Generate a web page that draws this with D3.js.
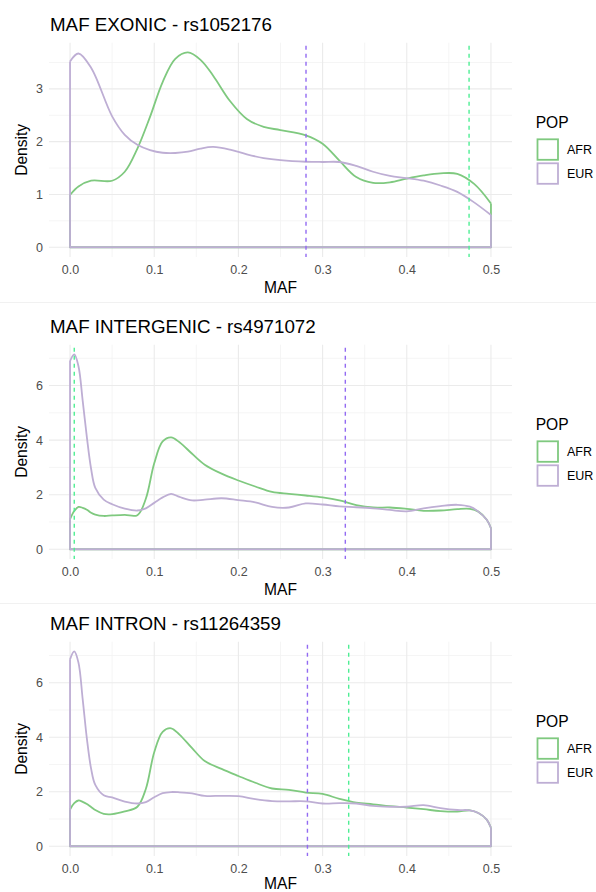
<!DOCTYPE html>
<html>
<head>
<meta charset="utf-8">
<script src="https://cdn.jsdelivr.net/npm/d3@7"></script>
<style>
  html, body { margin: 0; padding: 0; background: #ffffff; }
  svg { display: block; font-family: "Liberation Sans", Arial, Helvetica, sans-serif; }
</style>
</head>
<body>
<svg id="chart" width="596" height="892"></svg>
<script>
// ---- Data -------------------------------------------------------------
const populations = ["AFR", "EUR"];
const popColors = ["#7FC97F", "#BEAED4"];
const markerColors = ["#4EEE94", "#936BF2"];
const mafTicks = [0, 0.1, 0.2, 0.3, 0.4, 0.5];

const panelTitles = [
  "MAF EXONIC - rs1052176",
  "MAF INTERGENIC - rs4971072",
  "MAF INTRON - rs11264359"
];

// Exonic
const exonicMaf = [0, 0.01, 0.025, 0.05, 0.065, 0.08, 0.095, 0.11, 0.125, 0.14, 0.155, 0.17, 0.19, 0.21, 0.23, 0.25, 0.28, 0.30, 0.32, 0.34, 0.36, 0.38, 0.40, 0.42, 0.44, 0.46, 0.48, 0.5];
const exonicAfr = [0.99, 1.15, 1.26, 1.26, 1.43, 1.87, 2.47, 3.13, 3.57, 3.69, 3.55, 3.25, 2.77, 2.43, 2.28, 2.22, 2.12, 1.96, 1.64, 1.33, 1.22, 1.23, 1.30, 1.36, 1.40, 1.39, 1.20, 0.83];
const exonicEur = [3.52, 3.67, 3.40, 2.48, 2.13, 1.94, 1.84, 1.79, 1.785, 1.81, 1.87, 1.90, 1.85, 1.76, 1.69, 1.65, 1.62, 1.615, 1.615, 1.54, 1.43, 1.35, 1.31, 1.26, 1.17, 1.05, 0.85, 0.61];
const exonicYTicks = [0, 1, 2, 3];

// Intergenic
const intergenicMaf = [0, 0.005, 0.01, 0.015, 0.02, 0.025, 0.03, 0.04, 0.05, 0.065, 0.08, 0.09, 0.1, 0.11, 0.12, 0.13, 0.145, 0.16, 0.18, 0.2, 0.22, 0.24, 0.26, 0.28, 0.3, 0.32, 0.34, 0.36, 0.38, 0.40, 0.42, 0.44, 0.46, 0.475, 0.485, 0.495, 0.5];
const intergenicAfr = [1.1, 1.4, 1.55, 1.52, 1.45, 1.34, 1.27, 1.22, 1.24, 1.26, 1.25, 1.85, 3.15, 3.95, 4.10, 3.92, 3.50, 3.10, 2.77, 2.52, 2.30, 2.10, 2.03, 1.97, 1.90, 1.79, 1.62, 1.53, 1.53, 1.48, 1.41, 1.42, 1.47, 1.48, 1.38, 1.08, 0.77];
const intergenicEur = [6.9, 7.14, 6.71, 5.45, 4.1, 2.95, 2.25, 1.82, 1.65, 1.49, 1.42, 1.5, 1.70, 1.90, 2.03, 1.92, 1.79, 1.82, 1.87, 1.80, 1.72, 1.55, 1.53, 1.68, 1.64, 1.57, 1.54, 1.50, 1.44, 1.39, 1.50, 1.58, 1.63, 1.56, 1.38, 1.08, 0.77];
const intergenicYTicks = [0, 2, 4, 6];

// Intron
const intronMaf = [0, 0.005, 0.01, 0.015, 0.02, 0.025, 0.03, 0.04, 0.05, 0.065, 0.08, 0.09, 0.1, 0.11, 0.12, 0.13, 0.145, 0.16, 0.18, 0.2, 0.22, 0.24, 0.26, 0.28, 0.3, 0.32, 0.34, 0.36, 0.38, 0.40, 0.42, 0.44, 0.46, 0.475, 0.485, 0.495, 0.5];
const intronAfr = [1.35, 1.58, 1.68, 1.63, 1.55, 1.44, 1.33, 1.19, 1.18, 1.28, 1.45, 2.1, 3.45, 4.2, 4.33, 4.1, 3.6, 3.13, 2.84, 2.58, 2.33, 2.12, 2.07, 1.97, 1.92, 1.74, 1.60, 1.54, 1.47, 1.42, 1.36, 1.29, 1.27, 1.32, 1.22, 0.98, 0.68];
const intronEur = [6.86, 7.15, 6.74, 5.4, 3.95, 2.85, 2.25, 1.87, 1.79, 1.64, 1.57, 1.62, 1.80, 1.95, 1.99, 1.98, 1.94, 1.85, 1.85, 1.84, 1.73, 1.66, 1.65, 1.65, 1.57, 1.58, 1.57, 1.48, 1.45, 1.45, 1.51, 1.40, 1.33, 1.32, 1.22, 0.98, 0.68];
const intronYTicks = [0, 2, 4, 6];

// Per-SNP marker positions (AFR, EUR)
const snpMafAfr = [0.474, 0.005, 0.331];
const snpMafEur = [0.2803, 0.327, 0.282];

const panels = [
  { title: panelTitles[0], maf: exonicMaf, series: [exonicAfr, exonicEur], yTicks: exonicYTicks, markers: [snpMafAfr[0], snpMafEur[0]] },
  { title: panelTitles[1], maf: intergenicMaf, series: [intergenicAfr, intergenicEur], yTicks: intergenicYTicks, markers: [snpMafAfr[1], snpMafEur[1]] },
  { title: panelTitles[2], maf: intronMaf, series: [intronAfr, intronEur], yTicks: intronYTicks, markers: [snpMafAfr[2], snpMafEur[2]] }
];

// ---- Layout -----------------------------------------------------------
const width = 596, height = 892;
const panelOffsets = [0, 302, 599];
const plotLeft = 49, plotRight = 512;
const plotTop = 42.7, plotBottom = 257;

const svg = d3.select("#chart");

// faint separators between stacked plots
[302.5, 603.5].forEach(y => {
  svg.append("line").attr("x1", 0).attr("x2", width).attr("y1", y).attr("y2", y)
    .attr("stroke", "#f1f1f1").attr("stroke-width", 1);
});

const x = d3.scaleLinear().domain([-0.025, 0.525]).range([plotLeft, plotRight]);

panels.forEach((p, i) => {
  const off = panelOffsets[i];
  const g = svg.append("g").attr("transform", `translate(0,${off})`);
  const yMax = d3.max(p.series.flat());
  const y = d3.scaleLinear().domain([-0.05 * yMax, 1.05 * yMax]).range([plotBottom, plotTop]);

  // grid: minor then major
  const step = p.yTicks[1] - p.yTicks[0];
  const yMinor = d3.range(step / 2, y.domain()[1], step);
  const xMinor = d3.range(0.05, 0.5, 0.1);
  const grid = g.append("g");
  yMinor.forEach(v => grid.append("line").attr("x1", plotLeft).attr("x2", plotRight)
    .attr("y1", y(v)).attr("y2", y(v)).attr("stroke", "#f2f2f2").attr("stroke-width", 0.8));
  xMinor.forEach(v => grid.append("line").attr("y1", plotTop).attr("y2", plotBottom)
    .attr("x1", x(v)).attr("x2", x(v)).attr("stroke", "#f2f2f2").attr("stroke-width", 0.8));
  p.yTicks.forEach(v => grid.append("line").attr("x1", plotLeft).attr("x2", plotRight)
    .attr("y1", y(v)).attr("y2", y(v)).attr("stroke", "#ebebeb").attr("stroke-width", 1.1));
  mafTicks.forEach(v => grid.append("line").attr("y1", plotTop).attr("y2", plotBottom)
    .attr("x1", x(v)).attr("x2", x(v)).attr("stroke", "#ebebeb").attr("stroke-width", 1.1));

  // density outlines: upper curve plus the closing edges down to zero
  const curve = d3.line().x(d => x(d[0])).y(d => y(d[1])).curve(d3.curveCatmullRom.alpha(0.5));
  const edges = d3.line().x(d => x(d[0])).y(d => y(d[1]));
  p.series.forEach((vals, s) => {
    const pts = p.maf.map((m, k) => [m, vals[k]]);
    const last = pts[pts.length - 1];
    g.append("path").attr("d", curve(pts)).attr("fill", "none")
      .attr("stroke", popColors[s]).attr("stroke-width", 1.8).attr("stroke-linejoin", "round");
    g.append("path").attr("d", edges([last, [last[0], 0], [0, 0], pts[0]])).attr("fill", "none")
      .attr("stroke", popColors[s]).attr("stroke-width", 1.8).attr("stroke-linejoin", "round");
  });

  // SNP markers
  p.markers.forEach((m, s) => {
    g.append("line").attr("x1", x(m)).attr("x2", x(m)).attr("y1", plotTop + 3).attr("y2", plotBottom)
      .attr("stroke", markerColors[s]).attr("stroke-width", 1.4).attr("stroke-dasharray", "4,4");
  });

  // axes
  const xAxis = g.append("g").attr("transform", `translate(0,${plotBottom})`)
    .call(d3.axisBottom(x).tickValues(mafTicks).tickFormat(d3.format(".1f")).tickSize(0).tickPadding(8.3));
  const yAxis = g.append("g").attr("transform", `translate(${plotLeft},0)`)
    .call(d3.axisLeft(y).tickValues(p.yTicks).tickFormat(d3.format("d")).tickSize(0).tickPadding(6));
  [xAxis, yAxis].forEach(a => {
    a.select(".domain").remove();
    a.selectAll("text").attr("fill", "#4d4d4d").style("font-size", "12.5px")
      .style("font-family", "'Liberation Sans', Arial, sans-serif");
  });

  // titles
  g.append("text").attr("x", 50).attr("y", 30.7).attr("fill", "#000")
    .style("font-size", "18.75px").text(p.title);
  g.append("text").attr("x", (plotLeft + plotRight) / 2)
    .attr("y", Math.min(293.3, height - off - 3))
    .attr("text-anchor", "middle").attr("fill", "#000").style("font-size", "15.6px").text("MAF");
  g.append("text").attr("transform", `translate(26.8,${(plotTop + plotBottom) / 2}) rotate(-90)`)
    .attr("text-anchor", "middle").attr("fill", "#000").style("font-size", "15.6px").text("Density");

  // legend
  const lg = g.append("g");
  lg.append("text").attr("x", 535.7).attr("y", 128.3).attr("fill", "#000")
    .style("font-size", "15.6px").text("POP");
  populations.forEach((name, s) => {
    const top = 139.3 + s * 24;
    lg.append("rect").attr("x", 537.5).attr("y", top).attr("width", 20.5).attr("height", 20.5)
      .attr("fill", "#fff").attr("stroke", popColors[s]).attr("stroke-width", 1.8);
    lg.append("text").attr("x", 567).attr("y", top + 15).attr("fill", "#000")
      .style("font-size", "12.5px").text(name);
  });
});
</script>
</body>
</html>
